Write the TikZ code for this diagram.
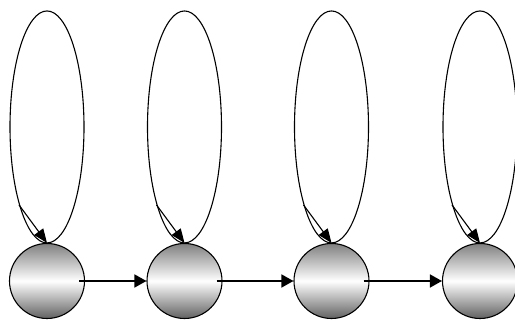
\documentclass[tikz,border=0pt]{standalone}
\usetikzlibrary{arrows.meta}
\begin{document}
\begin{tikzpicture}[x=1pt,y=1pt,
  estado/.style={circle,draw,line width=1.1pt,minimum size=75pt,inner sep=0pt,
    top color=black!50,bottom color=black!62,middle color=white},
  lazo/.style={line width=1.1pt,-{Triangle[length=14pt,width=11pt]}},
  paso/.style={line width=1.6pt,-{Triangle[length=12pt,width=13pt]}}]
  \useasboundingbox (0,0) rectangle (515,320);
  \clip (0,0) rectangle (515,320);
  % estados
  \foreach \i/\x in {1/47,2/184.5,3/331.5,4/480}{
    \node[estado] (s\i) at (\x,39) {};
  }
  % lazos
  \foreach \i in {1,...,4}{
    \draw[line width=1.1pt] ([yshift=116pt]s\i.north) ellipse (37 and 116);
    \coordinate (d\i) at ([xshift=-28pt,yshift=38pt]s\i.north);
    \draw[lazo] (d\i) -- (s\i.north);
  }
  % pasos
  \foreach \i/\j in {1/2,2/3,3/4}{
    \draw[paso] ([xshift=-6pt]s\i.east) -- (s\j.west);
  }
\end{tikzpicture}
\end{document}
